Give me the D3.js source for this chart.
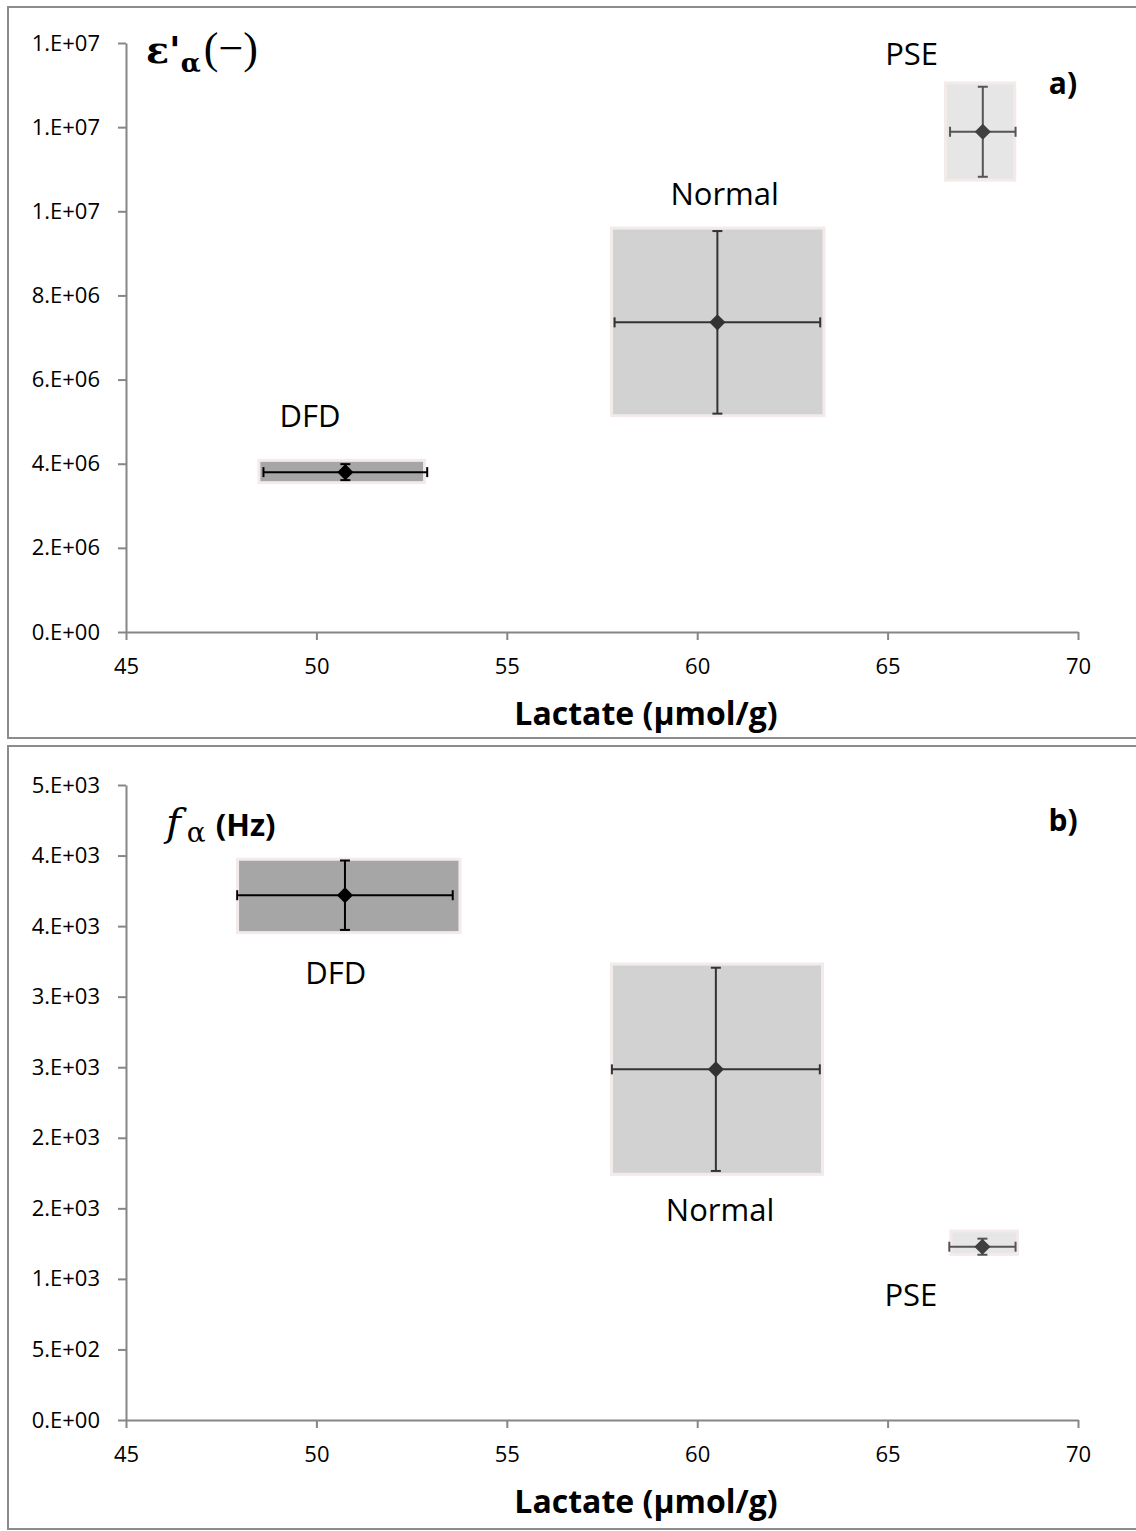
<!DOCTYPE html>
<html>
<head>
<meta charset="utf-8">
<script src="https://cdn.jsdelivr.net/npm/d3@7"></script>
<style>
  html, body { margin: 0; padding: 0; background: #fff; }
  svg { display: block; }
  .tick text { font-family: "Open Sans", sans-serif; font-size: 22px; fill: #000; }
  .tick line, .domain { stroke: #868686; stroke-width: 2px; }
  .grp { font-family: "Open Sans", sans-serif; font-size: 31px; fill: #000; }
  .ttl { font-family: "Open Sans", sans-serif; font-size: 32px; font-weight: bold; fill: #000; }
</style>
</head>
<body>
<svg id="chart" width="1136" height="1531"></svg>
<script>
// --- データ ---
const groups = ["DFD", "Normal", "PSE"];

// a) ε'α
const epsLactate = [50.76, 60.53, 67.50];
const epsLactateErr = [2.15, 2.70, 0.86];
const epsValue = [3.80e6, 7.36e6, 11.89e6];
const epsErr = [0.19e6, 2.17e6, 1.07e6];
const epsBoxX = [[48.49, 52.84], [57.75, 63.33], [66.52, 68.34]];
const epsBoxY = [[3.55e6, 4.08e6], [5.14e6, 9.60e6], [10.74e6, 13.05e6]];
const epsTicks = [0, 2e6, 4e6, 6e6, 8e6, 1.0e7, 1.2e7, 1.4e7];
const epsLabelX = [49.83, 60.72, 65.63];
const epsLabelY = [4.88e6, 10.16e6, 13.48e6];

// b) fα
const fLactate = [50.75, 60.49, 67.49];
const fLactateErr = [2.83, 2.73, 0.87];
const fValue = [3719, 2485, 1228];
const fErr = [246, 720, 57];
const fBoxX = [[47.93, 53.77], [57.75, 63.29], [66.66, 68.41]];
const fBoxY = [[3454, 3974], [1741, 3231], [1174, 1339]];
const fTicks = [0, 500, 1000, 1500, 2000, 2500, 3000, 3500, 4000, 4500];
const fLabelX = [50.51, 60.6, 65.61];
const fLabelY = [3090, 1410, 808];

const xTicks = [45, 50, 55, 60, 65, 70];

// 色 (グループごと)
const boxFill = ["#a6a6a6", "#d2d2d2", "#e6e6e6"];
const markColor = ["#000000", "#333333", "#404040"];
const barColor = ["#000000", "#333333", "#555555"];

// Excel風 "0.E+00" 表記
function sciFmt(v) {
    if (v === 0) return "0.E+00";
    let e = Math.floor(Math.log10(v));
    let m = Math.round(v / Math.pow(10, e));
    if (m === 10) { m = 1; e += 1; }
    return m + ".E+" + String(e).padStart(2, "0");
}

const svg = d3.select("#chart");

// パネル枠
svg.append("rect").attr("x", 8).attr("y", 7).attr("width", 1140).attr("height", 731)
    .attr("fill", "none").attr("stroke", "#8c8c8c").attr("stroke-width", 2);
svg.append("rect").attr("x", 8).attr("y", 746).attr("width", 1140).attr("height", 783)
    .attr("fill", "none").attr("stroke", "#8c8c8c").attr("stroke-width", 2);

function drawPanel(p) {
    const x = d3.scaleLinear().domain([45, 70]).range([126, 1078]);
    const y = d3.scaleLinear().domain(p.yDomain).range(p.yRange);
    const g = svg.append("g");

    const rows = groups.map((name, i) => ({
        name, i,
        x: p.lx[i], xe: p.lxe[i], y: p.v[i], ye: p.ve[i],
        bx: p.bx[i], by: p.by[i], tx: p.tx[i], ty: p.ty[i]
    }));

    // 範囲ボックス
    g.selectAll(".box").data(rows).enter().append("rect")
        .attr("x", d => x(d.bx[0]))
        .attr("width", d => x(d.bx[1]) - x(d.bx[0]))
        .attr("y", d => y(d.by[1]))
        .attr("height", d => y(d.by[0]) - y(d.by[1]))
        .attr("fill", d => boxFill[d.i])
        .attr("stroke", "#f3eaea").attr("stroke-width", 3);

    // 軸
    g.append("g").attr("transform", `translate(0,${p.yRange[0]})`)
        .call(d3.axisBottom(x).tickValues(xTicks).tickSize(8).tickPadding(17).tickSizeOuter(0))
        .call(a => a.selectAll("text").attr("dy", "0.75em"));
    g.append("g").attr("transform", `translate(126,0)`)
        .call(d3.axisLeft(y).tickValues(p.ticks).tickFormat(sciFmt).tickSize(8).tickPadding(18).tickSizeOuter(0));

    // エラーバー
    const eb = g.selectAll(".eb").data(rows).enter().append("g")
        .attr("stroke", d => barColor[d.i]).attr("stroke-width", 2);
    eb.append("line")
        .attr("x1", d => x(d.x - d.xe)).attr("x2", d => x(d.x + d.xe))
        .attr("y1", d => y(d.y)).attr("y2", d => y(d.y));
    eb.append("line")
        .attr("x1", d => x(d.x)).attr("x2", d => x(d.x))
        .attr("y1", d => y(d.y - d.ye)).attr("y2", d => y(d.y + d.ye));
    [-1, 1].forEach(s => {
        eb.append("line")
            .attr("x1", d => x(d.x + s * d.xe)).attr("x2", d => x(d.x + s * d.xe))
            .attr("y1", d => y(d.y) - 5).attr("y2", d => y(d.y) + 5);
        eb.append("line")
            .attr("x1", d => x(d.x) - 5).attr("x2", d => x(d.x) + 5)
            .attr("y1", d => y(d.y + s * d.ye)).attr("y2", d => y(d.y + s * d.ye));
    });

    // マーカー (ひし形)
    g.selectAll(".pt").data(rows).enter().append("path")
        .attr("d", d3.symbol(d3.symbolSquare, 130))
        .attr("transform", d => `translate(${x(d.x)},${y(d.y)}) rotate(45)`)
        .attr("fill", d => markColor[d.i]);

    // グループ名
    g.selectAll(".grp").data(rows).enter().append("text")
        .attr("class", "grp").attr("text-anchor", "middle")
        .attr("x", d => x(d.tx)).attr("y", d => y(d.ty))
        .text(d => d.name);

    // x軸タイトル
    g.append("text").attr("class", "ttl").attr("text-anchor", "middle")
        .attr("x", 646).attr("y", p.yRange[0] + 93)
        .text("Lactate (μmol/g)");

    // パネル記号
    g.append("text").attr("class", "ttl").attr("text-anchor", "middle")
        .style("font-size", "30px")
        .attr("x", 1063).attr("y", p.tagY).text(p.tag);
    return g;
}

const gA = drawPanel({
    yDomain: [0, 1.4e7], yRange: [632, 43], ticks: epsTicks,
    lx: epsLactate, lxe: epsLactateErr, v: epsValue, ve: epsErr,
    bx: epsBoxX, by: epsBoxY, tx: epsLabelX, ty: epsLabelY,
    tag: "a)", tagY: 94
});
const gB = drawPanel({
    yDomain: [0, 4500], yRange: [1420, 785], ticks: fTicks,
    lx: fLactate, lxe: fLactateErr, v: fValue, ve: fErr,
    bx: fBoxX, by: fBoxY, tx: fLabelX, ty: fLabelY,
    tag: "b)", tagY: 831
});

// y軸タイトル a) ε'α(−)
const tA = gA.append("text").attr("x", 146).attr("y", 63)
    .style("font-family", "'DejaVu Serif', serif").style("font-weight", "bold").style("font-size", "38px");
tA.append("tspan").text("ε'");
tA.append("tspan").attr("dy", 9).style("font-size", "26px").text("α");
tA.append("tspan").attr("dy", -9).attr("dx", 3)
    .style("font-family", "'Liberation Serif', serif").style("font-weight", "normal").style("font-size", "44px")
    .text("(−)");

// y軸タイトル b) fα (Hz)
const tB = gB.append("text").attr("x", 166).attr("y", 836)
    .style("font-family", "'DejaVu Serif', serif").style("font-size", "40px");
tB.append("tspan").style("font-style", "italic").text("f");
tB.append("tspan").attr("dy", 6).attr("dx", 6).style("font-size", "28px").text("α");
tB.append("tspan").attr("dy", -6).attr("dx", 10)
    .style("font-family", "'Open Sans', sans-serif").style("font-weight", "bold").style("font-size", "31px")
    .text("(Hz)");
</script>
</body>
</html>
